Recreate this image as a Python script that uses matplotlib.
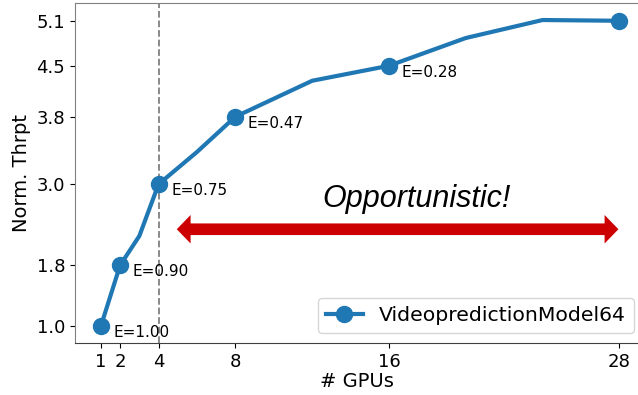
import matplotlib
matplotlib.use("Agg")
import matplotlib.pyplot as plt
from matplotlib.patches import Polygon

# data
gpus = [1, 2, 3, 4, 6, 8, 12, 16, 20, 24, 28]
thrpt = [1.0, 1.81, 2.2, 2.89, 3.32, 3.79, 4.27, 4.47, 4.84, 5.08, 5.07]
marker_gpus = [1, 2, 4, 8, 16, 28]
marker_thrpt = [1.0, 1.81, 2.89, 3.79, 4.47, 5.07]
ytick_labels = ["1.0", "1.8", "3.0", "3.8", "4.5", "5.1"]
xticks = [1, 2, 4, 8, 16, 28]
eff_gpus = [1, 2, 4, 8, 16]
eff_vals = [1.0, 1.81, 2.89, 3.79, 4.47]
eff_labels = ["E=1.00", "E=0.90", "E=0.75", "E=0.47", "E=0.28"]
series_name = "VideopredictionModel64"

fig = plt.figure(figsize=(6.38, 3.95), dpi=100)
ax = fig.add_axes([75/638, 52/395, 1 - 75/638, 340/395])

color = "#1f77b4"
markevery = [gpus.index(g) for g in marker_gpus]
ax.plot(gpus, thrpt, color=color, lw=3, marker="o", markersize=11.5,
        markevery=markevery, label=series_name)

ax.axvline(4, color="#808080", ls="--", lw=1.3, zorder=0)

for g, v, lab in zip(eff_gpus, eff_vals, eff_labels):
    ax.annotate(lab, (g, v), xytext=(9, -4.5), textcoords="offset points",
                ha="left", va="center", fontsize=11)

# double-headed arrow as a single polygon
x0, x1, ya = 4.95, 27.95, 2.29
bw, hw, hl = 0.155 / 2, 0.38 / 2, 0.72
arrow_pts = [
    (x0, ya), (x0 + hl, ya + hw), (x0 + hl, ya + bw), (x1 - hl, ya + bw),
    (x1 - hl, ya + hw), (x1, ya), (x1 - hl, ya - hw), (x1 - hl, ya - bw),
    (x0 + hl, ya - bw), (x0 + hl, ya - hw),
]
ax.add_patch(Polygon(arrow_pts, closed=True, facecolor="#cc0000",
                     edgecolor="none"))

ax.text(17.46, 2.59, "Opportunistic!", fontsize=22, style="italic",
        family="Liberation Sans", ha="center", va="baseline")

ax.set_xlim(-0.35, 28.97)
ax.set_ylim(0.773, 5.307)
ax.set_xticks(xticks)
ax.set_xticklabels([str(x) for x in xticks])
ax.set_yticks(marker_thrpt)
ax.set_yticklabels(ytick_labels)
ax.tick_params(labelsize=13)
ax.set_xlabel("# GPUs", fontsize=14, labelpad=1)
ax.set_ylabel("Norm. Thrpt", fontsize=14)

ax.spines["right"].set_visible(False)
ax.spines["top"].set_color("#808080")
ax.spines["left"].set_color("#808080")
ax.spines["bottom"].set_color("#404040")

ax.legend(loc="lower right", fontsize=14.7, bbox_to_anchor=(0.993, 0.029),
          borderaxespad=0, handlelength=1.8)

fig.savefig("out.png", dpi=100)
